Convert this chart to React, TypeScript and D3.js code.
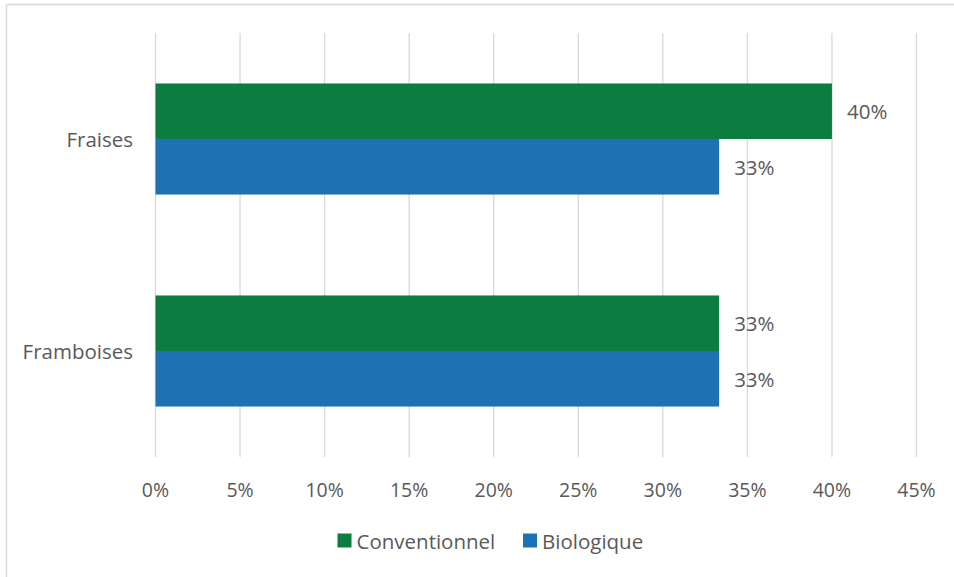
import React from "react";
import * as d3 from "d3";

const categories = ["Fraises", "Framboises"];
const seriesNames = ["Conventionnel", "Biologique"];
const conventionnel = [0.4, 0.3333];
const biologique = [0.3333, 0.3333];
const tickValues = [0, 0.05, 0.1, 0.15, 0.2, 0.25, 0.3, 0.35, 0.4, 0.45];
const colors = ["#0C7C40", "#1E71B4"];

const W = 954;
const H = 577;
const FONT = "'Open Sans', 'Noto Sans', sans-serif";
const TXT = "#595959";

export default function App() {
  const x = d3.scaleLinear().domain([0, 0.45]).range([155.5, 916.5]);
  const y = d3
    .scaleBand<string>()
    .domain(categories)
    .range([33, 457])
    .paddingInner(0.476)
    .paddingOuter(0.238);
  const inner = d3
    .scaleBand<string>()
    .domain(seriesNames)
    .range([0, y.bandwidth()]);
  const seriesValues = [conventionnel, biologique];
  const pct = d3.format(".0%");

  return (
    <svg
      width={W}
      height={H}
      style={{ position: "absolute", left: 0, top: 0, background: "#fff" }}
      fontFamily={FONT}
    >
      <rect x={0} y={0} width={W} height={H} fill="#fff" />
      <line x1={6.5} x2={6.5} y1={4.5} y2={H} stroke="#d9d9d9" strokeWidth={1.5} />
      <line x1={6.5} x2={W} y1={4.5} y2={4.5} stroke="#d9d9d9" strokeWidth={1.5} />
      {tickValues.map((t) => (
        <g key={t}>
          <line
            x1={x(t)}
            x2={x(t)}
            y1={33}
            y2={457}
            stroke="#d9d9d9"
            strokeWidth={1.3}
          />
          <text
            x={x(t)}
            y={489}
            textAnchor="middle"
            dominantBaseline="central"
            fontSize={19.5}
            fill={TXT}
          >
            {pct(t)}
          </text>
        </g>
      ))}
      {categories.map((c, ci) => (
        <g key={c}>
          <text
            x={133}
            y={(y(c) as number) + y.bandwidth() / 2}
            textAnchor="end"
            dominantBaseline="central"
            fontSize={20.5}
            fill={TXT}
          >
            {c}
          </text>
          {seriesNames.map((s, si) => {
            const v = seriesValues[si][ci];
            const y0 = (y(c) as number) + (inner(s) as number);
            return (
              <g key={s}>
                <rect
                  x={x(0)}
                  y={y0}
                  width={x(v) - x(0)}
                  height={inner.bandwidth()}
                  fill={colors[si]}
                />
                <text
                  x={x(v) + 15}
                  y={y0 + inner.bandwidth() / 2}
                  dominantBaseline="central"
                  fontSize={20.5}
                  fill={TXT}
                >
                  {pct(v)}
                </text>
              </g>
            );
          })}
        </g>
      ))}
      {seriesNames.map((s, si) => {
        const lx = si === 0 ? 337.5 : 523;
        return (
          <g key={s}>
            <rect x={lx} y={533.5} width={14} height={14} fill={colors[si]} />
            <text
              x={lx + 19}
              y={541}
              dominantBaseline="central"
              fontSize={20.5}
              fill={TXT}
            >
              {s}
            </text>
          </g>
        );
      })}
    </svg>
  );
}
